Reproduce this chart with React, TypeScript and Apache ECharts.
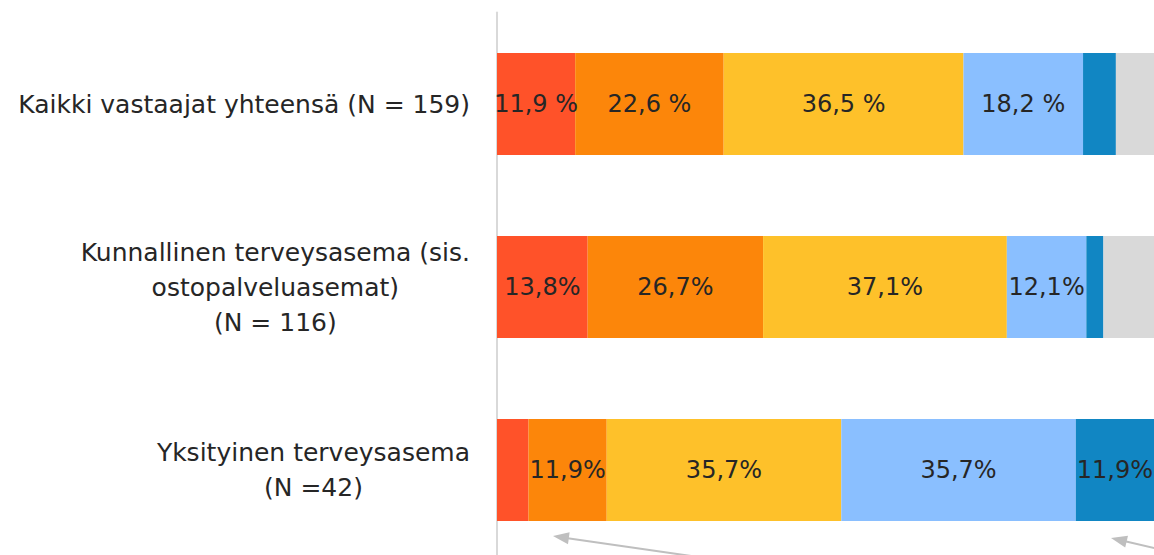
import React, { useEffect, useRef } from "react";
import * as echarts from "echarts";

const categories = [
  "Kaikki vastaajat yhteensä (N = 159)",
  "Kunnallinen terveysasema (sis.\nostopalveluasemat)\n(N = 116)",
  "Yksityinen terveysasema\n(N =42)",
];
const seriesNames = [
  "Erittäin huono",
  "Melko huono",
  "Kohtalainen",
  "Melko hyvä",
  "Erittäin hyvä",
  "En osaa sanoa",
];
const redValues = [11.9, 13.8, 4.8];
const orangeValues = [22.6, 26.7, 11.9];
const yellowValues = [36.5, 37.1, 35.7];
const lightBlueValues = [18.2, 12.1, 35.7];
const darkBlueValues = [5.0, 2.6, 11.9];
const greyValues = [5.8, 7.7, 0];
const labelSuffix = [" %", "%", "%"];
const colors = ["#FF5229", "#FC860A", "#FEC12A", "#8ABFFF", "#1186C3", "#D9D9D9"];
const FONT = "'DejaVu Sans', sans-serif";

export default function App() {
  const ref = useRef<HTMLDivElement>(null);
  useEffect(() => {
    if (!ref.current) return;
    const chart = echarts.init(ref.current, null, { renderer: "svg" });
    const allValues = [redValues, orangeValues, yellowValues, lightBlueValues, darkBlueValues, greyValues];
    const series = allValues.map((vals, i) => ({
      name: seriesNames[i],
      type: "bar",
      stack: "total",
      barWidth: 102,
      data: vals,
      itemStyle: { color: colors[i] },
      label: {
        show: i < 5,
        position: "inside",
        color: "#262626",
        fontSize: 24,
        fontFamily: FONT,
        formatter: (p: any) =>
          p.value >= 10 ? String(p.value.toFixed(1)).replace(".", ",") + labelSuffix[p.dataIndex] : "",
      },
    }));
    const arrowColor = "#BFBFBF";
    chart.setOption({
      animation: false,
      textStyle: { fontFamily: FONT },
      grid: { left: 497, top: 12.5, width: 660, height: 549, containLabel: false },
      xAxis: { type: "value", min: 0, max: 100, show: false },
      yAxis: {
        type: "category",
        inverse: true,
        data: categories,
        axisLine: { show: true, lineStyle: { color: "#D9D9D9", width: 2 } },
        axisTick: { show: false },
        axisLabel: {
          margin: 27,
          align: "right",
          lineHeight: 35,
          fontSize: 25,
          color: "#262626",
          fontFamily: FONT,
          formatter: (v: string) =>
            v
              .split("\n")
              .map((l) => "{c|" + l + "}")
              .join("\n"),
          rich: {
            c: { align: "center", fontSize: 25, lineHeight: 35, color: "#262626", fontFamily: FONT },
          },
        },
      },
      series,
      graphic: [
        {
          type: "polyline",
          shape: { points: [[566, 538], [705, 558]] },
          style: { stroke: arrowColor, lineWidth: 2, fill: null },
          silent: true,
        },
        {
          type: "polygon",
          shape: { points: [[553, 536], [569.6, 532.3], [568.0, 544.2]] },
          style: { fill: arrowColor },
          silent: true,
        },
        {
          type: "polyline",
          shape: { points: [[1124, 541], [1160, 549.4]] },
          style: { stroke: arrowColor, lineWidth: 2, fill: null },
          silent: true,
        },
        {
          type: "polygon",
          shape: { points: [[1111, 538], [1128.0, 535.8], [1125.2, 547.4]] },
          style: { fill: arrowColor },
          silent: true,
        },
      ],
    });
    return () => chart.dispose();
  }, []);
  return (
    <div
      ref={ref}
      style={{ position: "fixed", left: 0, top: 0, width: 1154, height: 620, background: "#fff" }}
    />
  );
}
